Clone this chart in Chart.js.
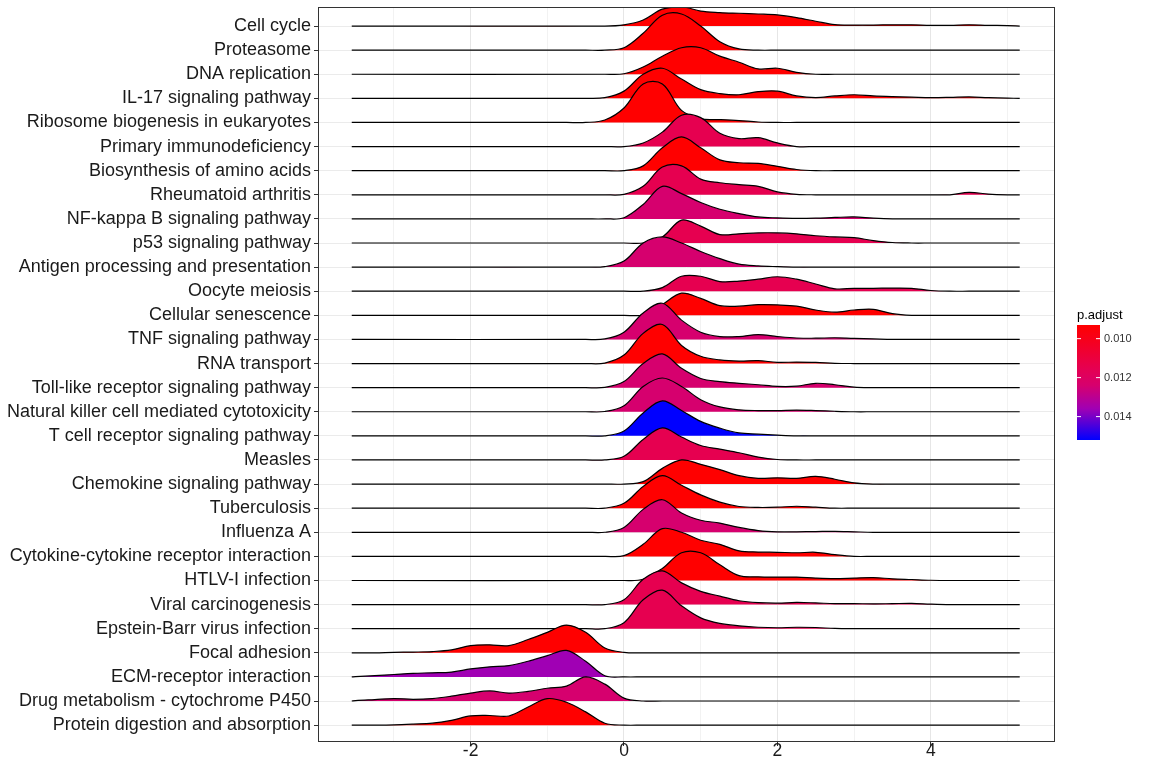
<!DOCTYPE html>
<html>
<head>
<meta charset="utf-8">
<script src="https://cdn.jsdelivr.net/npm/chart.js@4"></script>
<style>
  html, body { margin: 0; padding: 0; background: #fff; }
  #wrap { width: 1152px; height: 768px; }
</style>
</head>
<body>
<div id="wrap"><canvas id="ridgeChart" width="1152" height="768"></canvas></div>
<script>
// pathways, top to bottom
const categories = [
  'Cell cycle', 'Proteasome', 'DNA replication', 'IL-17 signaling pathway',
  'Ribosome biogenesis in eukaryotes', 'Primary immunodeficiency',
  'Biosynthesis of amino acids', 'Rheumatoid arthritis', 'NF-kappa B signaling pathway',
  'p53 signaling pathway', 'Antigen processing and presentation', 'Oocyte meiosis',
  'Cellular senescence', 'TNF signaling pathway', 'RNA transport',
  'Toll-like receptor signaling pathway', 'Natural killer cell mediated cytotoxicity',
  'T cell receptor signaling pathway', 'Measles', 'Chemokine signaling pathway',
  'Tuberculosis', 'Influenza A', 'Cytokine-cytokine receptor interaction',
  'HTLV-I infection', 'Viral carcinogenesis', 'Epstein-Barr virus infection',
  'Focal adhesion', 'ECM-receptor interaction', 'Drug metabolism - cytochrome P450',
  'Protein digestion and absorption'
];

const pAdjust = [
  0.0093, 0.0093, 0.0093, 0.0093, 0.0093, 0.0115, 0.0093, 0.0115, 0.0124,
  0.0115, 0.0124, 0.0115, 0.0093, 0.0124, 0.0093, 0.0124, 0.0124, 0.0152,
  0.0115, 0.0093, 0.0093, 0.0124, 0.0093, 0.0093, 0.0115, 0.0115, 0.0093,
  0.0136, 0.0124, 0.0093
];

// density start (log2 fold change) for each row; heights follow at 0.25 steps
const densityStart = [
  0, -0.25, 0, -0.25, -0.5, 0, 0, 0, -0.25,
  0.25, -0.25, 0.25, 0.25, -0.25, -0.25, -0.25, -0.25, -0.25,
  -0.25, 0, -0.25, -0.25, -0.25, 0.25, -0.25, -0.25, -3.25,
  -3.5, -3.5, -3.25
];

const densityHeights = [
  [0.05, 0.25, 0.7, 0.8, 0.62, 0.56, 0.53, 0.5, 0.46, 0.35, 0.2, 0.06, 0.04, 0.04, 0.05, 0.05, 0.03, 0.03, 0.05, 0.03, 0.02],
  [0, 0.1, 0.7, 1.45, 1.5, 1.0, 0.35, 0.05, 0],
  [0.02, 0.3, 0.75, 1.1, 1.1, 0.75, 0.5, 0.22, 0.25, 0.08, 0],
  [0.03, 0.3, 1.0, 1.25, 0.8, 0.36, 0.2, 0.15, 0.28, 0.3, 0.1, 0.03, 0.1, 0.15, 0.1, 0.07, 0.05, 0.03, 0.04, 0.06, 0.03, 0.01],
  [0, 0.1, 0.6, 1.6, 1.6, 0.5, 0.15, 0.12, 0.08, 0.02, 0],
  [0, 0.15, 0.6, 1.3, 1.2, 0.55, 0.33, 0.37, 0.15, 0],
  [0, 0.2, 0.95, 1.4, 0.95, 0.45, 0.33, 0.3, 0.18, 0.05, 0],
  [0.02, 0.35, 1.15, 1.2, 0.65, 0.5, 0.42, 0.35, 0.12, 0.02, 0, 0, 0, 0, 0, 0, 0, 0, 0.1, 0.03, 0],
  [0, 0.05, 0.6, 1.35, 1.05, 0.68, 0.4, 0.22, 0.08, 0.04, 0.02, 0.03, 0.06, 0.08, 0.03, 0],
  [0, 0.25, 0.95, 0.7, 0.35, 0.38, 0.42, 0.42, 0.38, 0.3, 0.25, 0.22, 0.1, 0.02, 0],
  [0.02, 0.25, 1.0, 1.25, 1.0, 0.65, 0.35, 0.12, 0.05, 0.02, 0],
  [0, 0.15, 0.62, 0.62, 0.4, 0.42, 0.5, 0.6, 0.5, 0.3, 0.1, 0.12, 0.12, 0.13, 0.12, 0.03, 0],
  [0.02, 0.45, 0.92, 0.7, 0.4, 0.38, 0.44, 0.43, 0.38, 0.22, 0.13, 0.22, 0.25, 0.07, 0],
  [0.02, 0.3, 1.1, 1.5, 0.8, 0.3, 0.12, 0.12, 0.2, 0.12, 0.06, 0.05, 0.07, 0.04, 0.02, 0],
  [0.02, 0.35, 1.25, 1.62, 0.75, 0.3, 0.15, 0.1, 0.12, 0.05, 0.06, 0.05, 0.01, 0],
  [0.01, 0.25, 1.0, 1.4, 0.8, 0.38, 0.25, 0.18, 0.12, 0.05, 0.06, 0.18, 0.12, 0.02, 0],
  [0.01, 0.25, 1.05, 1.4, 1.05, 0.5, 0.2, 0.08, 0.05, 0.05, 0.07, 0.05, 0.02, 0],
  [0, 0.2, 0.95, 1.45, 1.05, 0.6, 0.32, 0.12, 0.07, 0.03, 0],
  [0, 0.15, 0.85, 1.33, 0.95, 0.6, 0.45, 0.3, 0.12, 0.02, 0],
  [0, 0.1, 0.65, 1.0, 0.82, 0.6, 0.35, 0.24, 0.26, 0.24, 0.32, 0.2, 0.05, 0],
  [0, 0.2, 0.9, 1.35, 0.95, 0.55, 0.25, 0.07, 0.03, 0.04, 0.08, 0.04, 0],
  [0, 0.2, 0.95, 1.35, 0.8, 0.5, 0.38, 0.2, 0.07, 0.02, 0.02, 0.03, 0.04, 0.02, 0],
  [0, 0.03, 0.5, 1.15, 1.0, 0.67, 0.5, 0.23, 0.18, 0.17, 0.15, 0.17, 0.07, 0],
  [0.05, 0.5, 1.15, 1.15, 0.65, 0.2, 0.15, 0.14, 0.14, 0.1, 0.08, 0.1, 0.12, 0.07, 0.04, 0.01],
  [0, 0.2, 1.05, 1.4, 0.9, 0.55, 0.35, 0.16, 0.08, 0.06, 0.09, 0.07, 0.04, 0.04, 0.03, 0.04, 0.05, 0.02, 0],
  [0, 0.25, 1.2, 1.6, 0.95, 0.45, 0.22, 0.12, 0.06, 0.04, 0.06, 0.05, 0.01, 0],
  [0, 0.02, 0.03, 0.05, 0.12, 0.3, 0.33, 0.3, 0.55, 0.85, 1.15, 0.85, 0.2, 0.02, 0],
  [0.01, 0.05, 0.1, 0.15, 0.17, 0.2, 0.33, 0.42, 0.47, 0.65, 0.88, 1.1, 0.65, 0.05, 0],
  [0.02, 0.06, 0.1, 0.07, 0.1, 0.2, 0.33, 0.42, 0.33, 0.4, 0.53, 0.62, 1.0, 0.7, 0.12, 0],
  [0, 0.01, 0.04, 0.08, 0.2, 0.38, 0.4, 0.38, 0.75, 1.1, 0.95, 0.55, 0.08, 0]
];

const xTicks = [-2, 0, 2, 4];
const legendTicks = [0.010, 0.012, 0.014];
const lineFrom = -3.55, lineTo = 5.16;

// colour ramp for p.adjust
const rampStops = [
  [0.0093, [255, 0, 0]],
  [0.0115, [230, 0, 80]],
  [0.0124, [214, 0, 110]],
  [0.0136, [160, 0, 180]],
  [0.0152, [0, 0, 255]]
];
const pMin = 0.0093, pMax = 0.0152;

function pColor(p) {
  if (p <= rampStops[0][0]) return 'rgb(' + rampStops[0][1].join(',') + ')';
  for (let i = 1; i < rampStops.length; i++) {
    if (p <= rampStops[i][0]) {
      const [p0, c0] = rampStops[i - 1], [p1, c1] = rampStops[i];
      const t = (p - p0) / (p1 - p0);
      return 'rgb(' + c0.map((v, k) => Math.round(v + (c1[k] - v) * t)).join(',') + ')';
    }
  }
  return 'rgb(0,0,255)';
}

const n = categories.length;
const datasets = categories.map((name, i) => {
  const row = n - 1 - i;
  const pts = [{ x: lineFrom, y: row }];
  const start = densityStart[i];
  pts.push({ x: start - 0.25, y: row });
  densityHeights[i].forEach((h, k) => pts.push({ x: start + k * 0.25, y: row + h }));
  pts.push({ x: start + densityHeights[i].length * 0.25, y: row });
  pts.push({ x: lineTo, y: row });
  return {
    label: name,
    data: pts.filter(p => p.x >= lineFrom && p.x <= lineTo),
    borderColor: '#000',
    borderWidth: 1.2,
    backgroundColor: pColor(pAdjust[i]),
    fill: { value: row },
    pointRadius: 0,
    tension: 0.35,
    order: row
  };
});

const font = '"Liberation Sans", Arial, sans-serif';

const panelAndLegend = {
  id: 'panelAndLegend',
  afterDraw(chart) {
    const { ctx, chartArea: a } = chart;
    ctx.save();
    ctx.strokeStyle = '#333';
    ctx.lineWidth = 1;
    ctx.strokeRect(a.left + 0.5, a.top + 0.5, a.right - a.left - 1, a.bottom - a.top - 1);

    // colour bar
    const bx = 1077, bw = 23, by = 325, bh = 115;
    ctx.fillStyle = '#000';
    ctx.font = '13px ' + font;
    ctx.textBaseline = 'alphabetic';
    ctx.fillText('p.adjust', bx, 319);
    const g = ctx.createLinearGradient(0, by, 0, by + bh);
    rampStops.forEach(([p, c]) => g.addColorStop((p - pMin) / (pMax - pMin), 'rgb(' + c.join(',') + ')'));
    ctx.fillStyle = g;
    ctx.fillRect(bx, by, bw, bh);
    ctx.font = '11px ' + font;
    ctx.textBaseline = 'middle';
    legendTicks.forEach(t => {
      const y = by + (t - pMin) / (pMax - pMin) * bh;
      ctx.strokeStyle = '#fff';
      ctx.beginPath();
      ctx.moveTo(bx, y); ctx.lineTo(bx + 4, y);
      ctx.moveTo(bx + bw - 4, y); ctx.lineTo(bx + bw, y);
      ctx.stroke();
      ctx.fillStyle = '#333';
      ctx.fillText(t.toFixed(3), bx + bw + 4, y);
    });
    ctx.restore();
  }
};

new Chart(document.getElementById('ridgeChart'), {
  type: 'line',
  data: { datasets },
  options: {
    responsive: false,
    animation: false,
    layout: { padding: { top: 0, right: 97, left: 0, bottom: 0 } },
    plugins: { legend: { display: false }, tooltip: { enabled: false } },
    scales: {
      x: {
        type: 'linear',
        min: -3.99,
        max: 5.62,
        afterBuildTicks: s => { s.ticks = [-3, -2, -1, 0, 1, 2, 3, 4, 5].map(v => ({ value: v })); },
        afterFit: s => { s.height = 26; },
        ticks: {
          font: { size: 17.5, family: font },
          color: '#1a1a1a',
          padding: -5,
          maxRotation: 0,
          callback: v => xTicks.includes(v) ? String(v) : ''
        },
        grid: {
          color: c => (c.tick && xTicks.includes(c.tick.value)) ? '#e6e6e6' : '#f2f2f2',
          tickColor: c => (c.tick && xTicks.includes(c.tick.value)) ? '#333' : 'rgba(0,0,0,0)',
          tickLength: 4
        },
        border: { display: false }
      },
      y: {
        type: 'linear',
        min: -0.7,
        max: 29.79,
        afterBuildTicks: s => { s.ticks = categories.map((c, i) => ({ value: i })); },
        afterFit: s => { s.width = 318; s.paddingTop = 7; },
        ticks: {
          font: { size: 18, family: font, lineHeight: 0.78 },
          color: '#1a1a1a',
          padding: 3,
          autoSkip: false,
          callback: v => categories[n - 1 - v]
        },
        grid: { color: '#ebebeb', tickColor: '#333', tickLength: 4 },
        border: { display: false }
      }
    }
  },
  plugins: [panelAndLegend]
});
</script>
</body>
</html>
